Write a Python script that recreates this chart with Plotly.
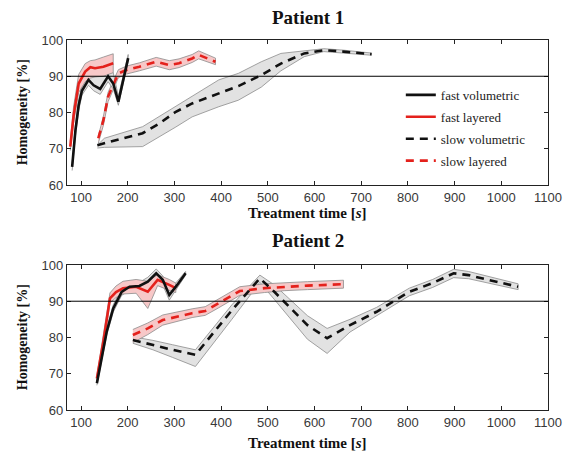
import plotly.graph_objects as go

# ---------------- Patient 1 ----------------
p1_fv_x = [81, 88, 95, 102, 116, 127, 141, 158, 169, 180, 201]
p1_fv_y = [65, 75, 82, 86, 89, 87.5, 86.5, 90, 88, 83, 95]
p1_fv_lo = [64, 73.5, 80.5, 84.8, 87.5, 86, 85, 88.5, 86.5, 82, 94.2]
p1_fv_hi = [66, 76.5, 83.5, 87.5, 90.5, 90.5, 90.5, 91.5, 91, 84.5, 96]

p1_fl_x = [77, 84, 95, 109, 120, 130, 148, 169]
p1_fl_y = [70.6, 79, 88, 91.3, 92.5, 92.2, 92.6, 93.6]
p1_fl_lo = [69.5, 77, 85.5, 88.5, 89.5, 89.8, 90, 91]
p1_fl_hi = [72, 81.5, 90.5, 93.5, 94.3, 94.5, 95.3, 96.2]

p1_sv_x = [135, 150, 232, 268, 303, 338, 395, 437, 486, 528, 578, 620, 662, 722]
p1_sv_y = [71, 71.5, 74.3, 77, 80.2, 82.5, 85.3, 87.3, 90.3, 93.5, 96.3, 97.2, 96.8, 96.1]
p1_sv_lo = [70.2, 70.4, 70.6, 73.3, 76, 78.8, 81.6, 83.4, 87, 91.5, 95.4, 96.8, 96.4, 95.8]
p1_sv_hi = [71, 72.9, 76.1, 79, 81.6, 84.4, 89, 90.8, 94, 96.3, 97, 97.6, 97.2, 96.4]

p1_sl_x = [137, 148, 158, 180, 197, 225, 261, 289, 310, 338, 352, 388]
p1_sl_y = [72.9, 77.9, 84.4, 90.8, 91.7, 92.6, 94, 93.1, 93.6, 94.9, 95.9, 94]
p1_sl_lo = [71.5, 76.5, 83, 89.6, 90.6, 91.5, 92.8, 91.8, 92.4, 93.8, 94.8, 93.2]
p1_sl_hi = [73.5, 79, 85.6, 91.8, 92.8, 93.7, 95.2, 94.3, 94.8, 96, 97, 95]

# ---------------- Patient 2 ----------------
p2_fv_x = [134, 145, 155, 169, 187, 204, 225, 243, 261, 275, 289, 306, 324]
p2_fv_y = [67.4, 75, 81.6, 88, 92.6, 94, 94.2, 95.4, 97.7, 95.9, 91.7, 94.5, 97.7]
p2_fv_lo = [66.8, 74, 80.6, 87, 91.6, 93, 93.2, 94.3, 96.7, 94.5, 90.3, 93.5, 97.2]
p2_fv_hi = [68, 76, 82.6, 89, 93.6, 95, 95.2, 96.6, 98.9, 97, 93, 95.5, 98.2]

p2_fl_x = [134, 148, 162, 175, 190, 218, 243, 264, 289, 303]
p2_fl_y = [68.7, 79, 90.8, 92.5, 93.6, 94, 92.6, 95.9, 94.5, 93.6]
p2_fl_lo = [68, 77.5, 89.5, 91, 92, 92.2, 88, 94.3, 93, 92.4]
p2_fl_hi = [69.5, 80.5, 92.3, 94.2, 95.5, 96, 95.5, 97.3, 96, 95]

p2_sv_x = [211, 254, 296, 345, 423, 483, 514, 585, 627, 676, 733, 803, 853, 898, 930, 972, 1036]
p2_sv_y = [79.3, 77.9, 76.6, 75.2, 87.5, 96.3, 92.6, 83.4, 79.8, 83.4, 87.1, 92.6, 95, 97.7, 97.2, 95.9, 94]
p2_sv_lo = [78.4, 76.6, 74.5, 72, 85, 95.2, 90.5, 79.5, 75.6, 81.5, 86, 91.5, 93.8, 96.5, 96.2, 94.9, 93.2]
p2_sv_hi = [80.2, 79.2, 78, 76.6, 89, 97.2, 94.5, 86, 82.5, 85, 88.3, 93.6, 96, 98.8, 98.2, 96.9, 94.8]

p2_sl_x = [211, 243, 275, 303, 338, 366, 395, 440, 493, 535, 585, 662]
p2_sl_y = [80.7, 82.5, 84.8, 85.7, 86.7, 87.3, 89.4, 92.8, 93.6, 94, 94.3, 94.7]
p2_sl_lo = [78.6, 80.8, 83.4, 84.4, 85.5, 86.1, 88.2, 91.6, 92.4, 92.9, 93.2, 93.6]
p2_sl_hi = [82.2, 84, 86.2, 87, 87.9, 88.5, 90.6, 94, 94.8, 95.1, 95.4, 95.8]

x_ticks = [100, 200, 300, 400, 500, 600, 700, 800, 900, 1000, 1100]
y_ticks = [60, 70, 80, 90, 100]
names = ["fast volumetric", "fast layered", "slow volumetric", "slow layered"]
ref_level = 90

RED = "#e4211c"
BLACK = "#111111"
GRAY_FILL = "#e2e2e2"
PINK_FILL = "#f7c8c8"
DASH = "8px,6px"

fig = go.Figure()


def add_band(x, lo, hi, fill, xa, ya):
    fig.add_trace(go.Scatter(
        x=list(x) + list(x)[::-1], y=list(hi) + list(lo)[::-1],
        fill="toself", fillcolor=fill, mode="lines",
        line=dict(color="#8c8c8c", width=0.8),
        showlegend=False, hoverinfo="skip", xaxis=xa, yaxis=ya))


def add_line(x, y, color, dash, name, rank, show, xa, ya):
    fig.add_trace(go.Scatter(
        x=x, y=y, mode="lines", name=name,
        line=dict(color=color, width=2.6, dash=dash),
        legendgroup=name, legendrank=rank, showlegend=show,
        xaxis=xa, yaxis=ya))


for (xa, ya, fv, fl, sv, sl, show) in [
    ("x", "y", (p1_fv_x, p1_fv_y, p1_fv_lo, p1_fv_hi), (p1_fl_x, p1_fl_y, p1_fl_lo, p1_fl_hi),
     (p1_sv_x, p1_sv_y, p1_sv_lo, p1_sv_hi), (p1_sl_x, p1_sl_y, p1_sl_lo, p1_sl_hi), True),
    ("x2", "y2", (p2_fv_x, p2_fv_y, p2_fv_lo, p2_fv_hi), (p2_fl_x, p2_fl_y, p2_fl_lo, p2_fl_hi),
     (p2_sv_x, p2_sv_y, p2_sv_lo, p2_sv_hi), (p2_sl_x, p2_sl_y, p2_sl_lo, p2_sl_hi), False),
]:
    add_band(sv[0], sv[2], sv[3], GRAY_FILL, xa, ya)
    add_band(sl[0], sl[2], sl[3], PINK_FILL, xa, ya)
    add_band(fv[0], fv[2], fv[3], GRAY_FILL, xa, ya)
    add_band(fl[0], fl[2], fl[3], PINK_FILL, xa, ya)
    add_line(sl[0], sl[1], RED, DASH, names[3], 4, show, xa, ya)
    add_line(fl[0], fl[1], RED, "solid", names[1], 2, show, xa, ya)
    add_line(sv[0], sv[1], BLACK, DASH, names[2], 3, show, xa, ya)
    add_line(fv[0], fv[1], BLACK, "solid", names[0], 1, show, xa, ya)

for xr, yr in [("x domain", "y"), ("x2 domain", "y2")]:
    fig.add_shape(type="line", xref=xr, yref=yr, x0=0, x1=1, y0=ref_level, y1=ref_level,
                  line=dict(color="black", width=1), layer="above")

tickfont = dict(family="Liberation Sans, Arial, sans-serif", size=13, color="#383838")
axis_common = dict(showline=True, linecolor="#222222", linewidth=1.2, mirror="allticks",
                   ticks="inside", ticklen=4, tickcolor="#222222", showgrid=False,
                   zeroline=False, tickfont=tickfont)

top_dom = [0.608, 1.0]
bot_dom = [0.0, 0.392]

fig.update_layout(
    width=574, height=453,
    margin=dict(l=67, r=22, t=40, b=43),
    paper_bgcolor="white", plot_bgcolor="white",
    xaxis=dict(range=[70, 1100], tickvals=x_ticks, domain=[0, 1], anchor="y", **axis_common),
    yaxis=dict(range=[60, 100], tickvals=y_ticks, domain=top_dom, anchor="x", **axis_common),
    xaxis2=dict(range=[70, 1100], tickvals=x_ticks, domain=[0, 1], anchor="y2", **axis_common),
    yaxis2=dict(range=[60, 100], tickvals=y_ticks, domain=bot_dom, anchor="x2", **axis_common),
    legend=dict(x=0.694, y=0.892, xanchor="left", yanchor="top",
                bgcolor="rgba(255,255,255,0)",
                traceorder="grouped", tracegroupgap=2,
                font=dict(family="Liberation Serif, Times New Roman, serif", size=13, color="#222")),
    showlegend=True,
)

serif_b = "Liberation Serif, Times New Roman, serif"
annos = [
    dict(text="<b>Patient 1</b>", x=0.5, y=1.06, size=19),
    dict(text="<b>Patient 2</b>", x=0.5, y=0.458, size=19),
    dict(text="<b>Treatment time [<i>s</i>]</b>", x=0.5, y=0.532, size=15),
    dict(text="<b>Treatment time [<i>s</i>]</b>", x=0.5, y=-0.089, size=15),
]
for a in annos:
    fig.add_annotation(text=a["text"], x=a["x"], y=a["y"], xref="paper", yref="paper",
                       showarrow=False, xanchor="center", yanchor="middle",
                       font=dict(family=serif_b, size=a["size"], color="#111"))
for yc in [0.804, 0.196]:
    fig.add_annotation(text="<b>Homogeneity [%]</b>", x=-0.092, y=yc, xref="paper", yref="paper",
                       showarrow=False, textangle=-90, xanchor="center", yanchor="middle",
                       font=dict(family=serif_b, size=14, color="#111"))

fig.write_html("out.html")
